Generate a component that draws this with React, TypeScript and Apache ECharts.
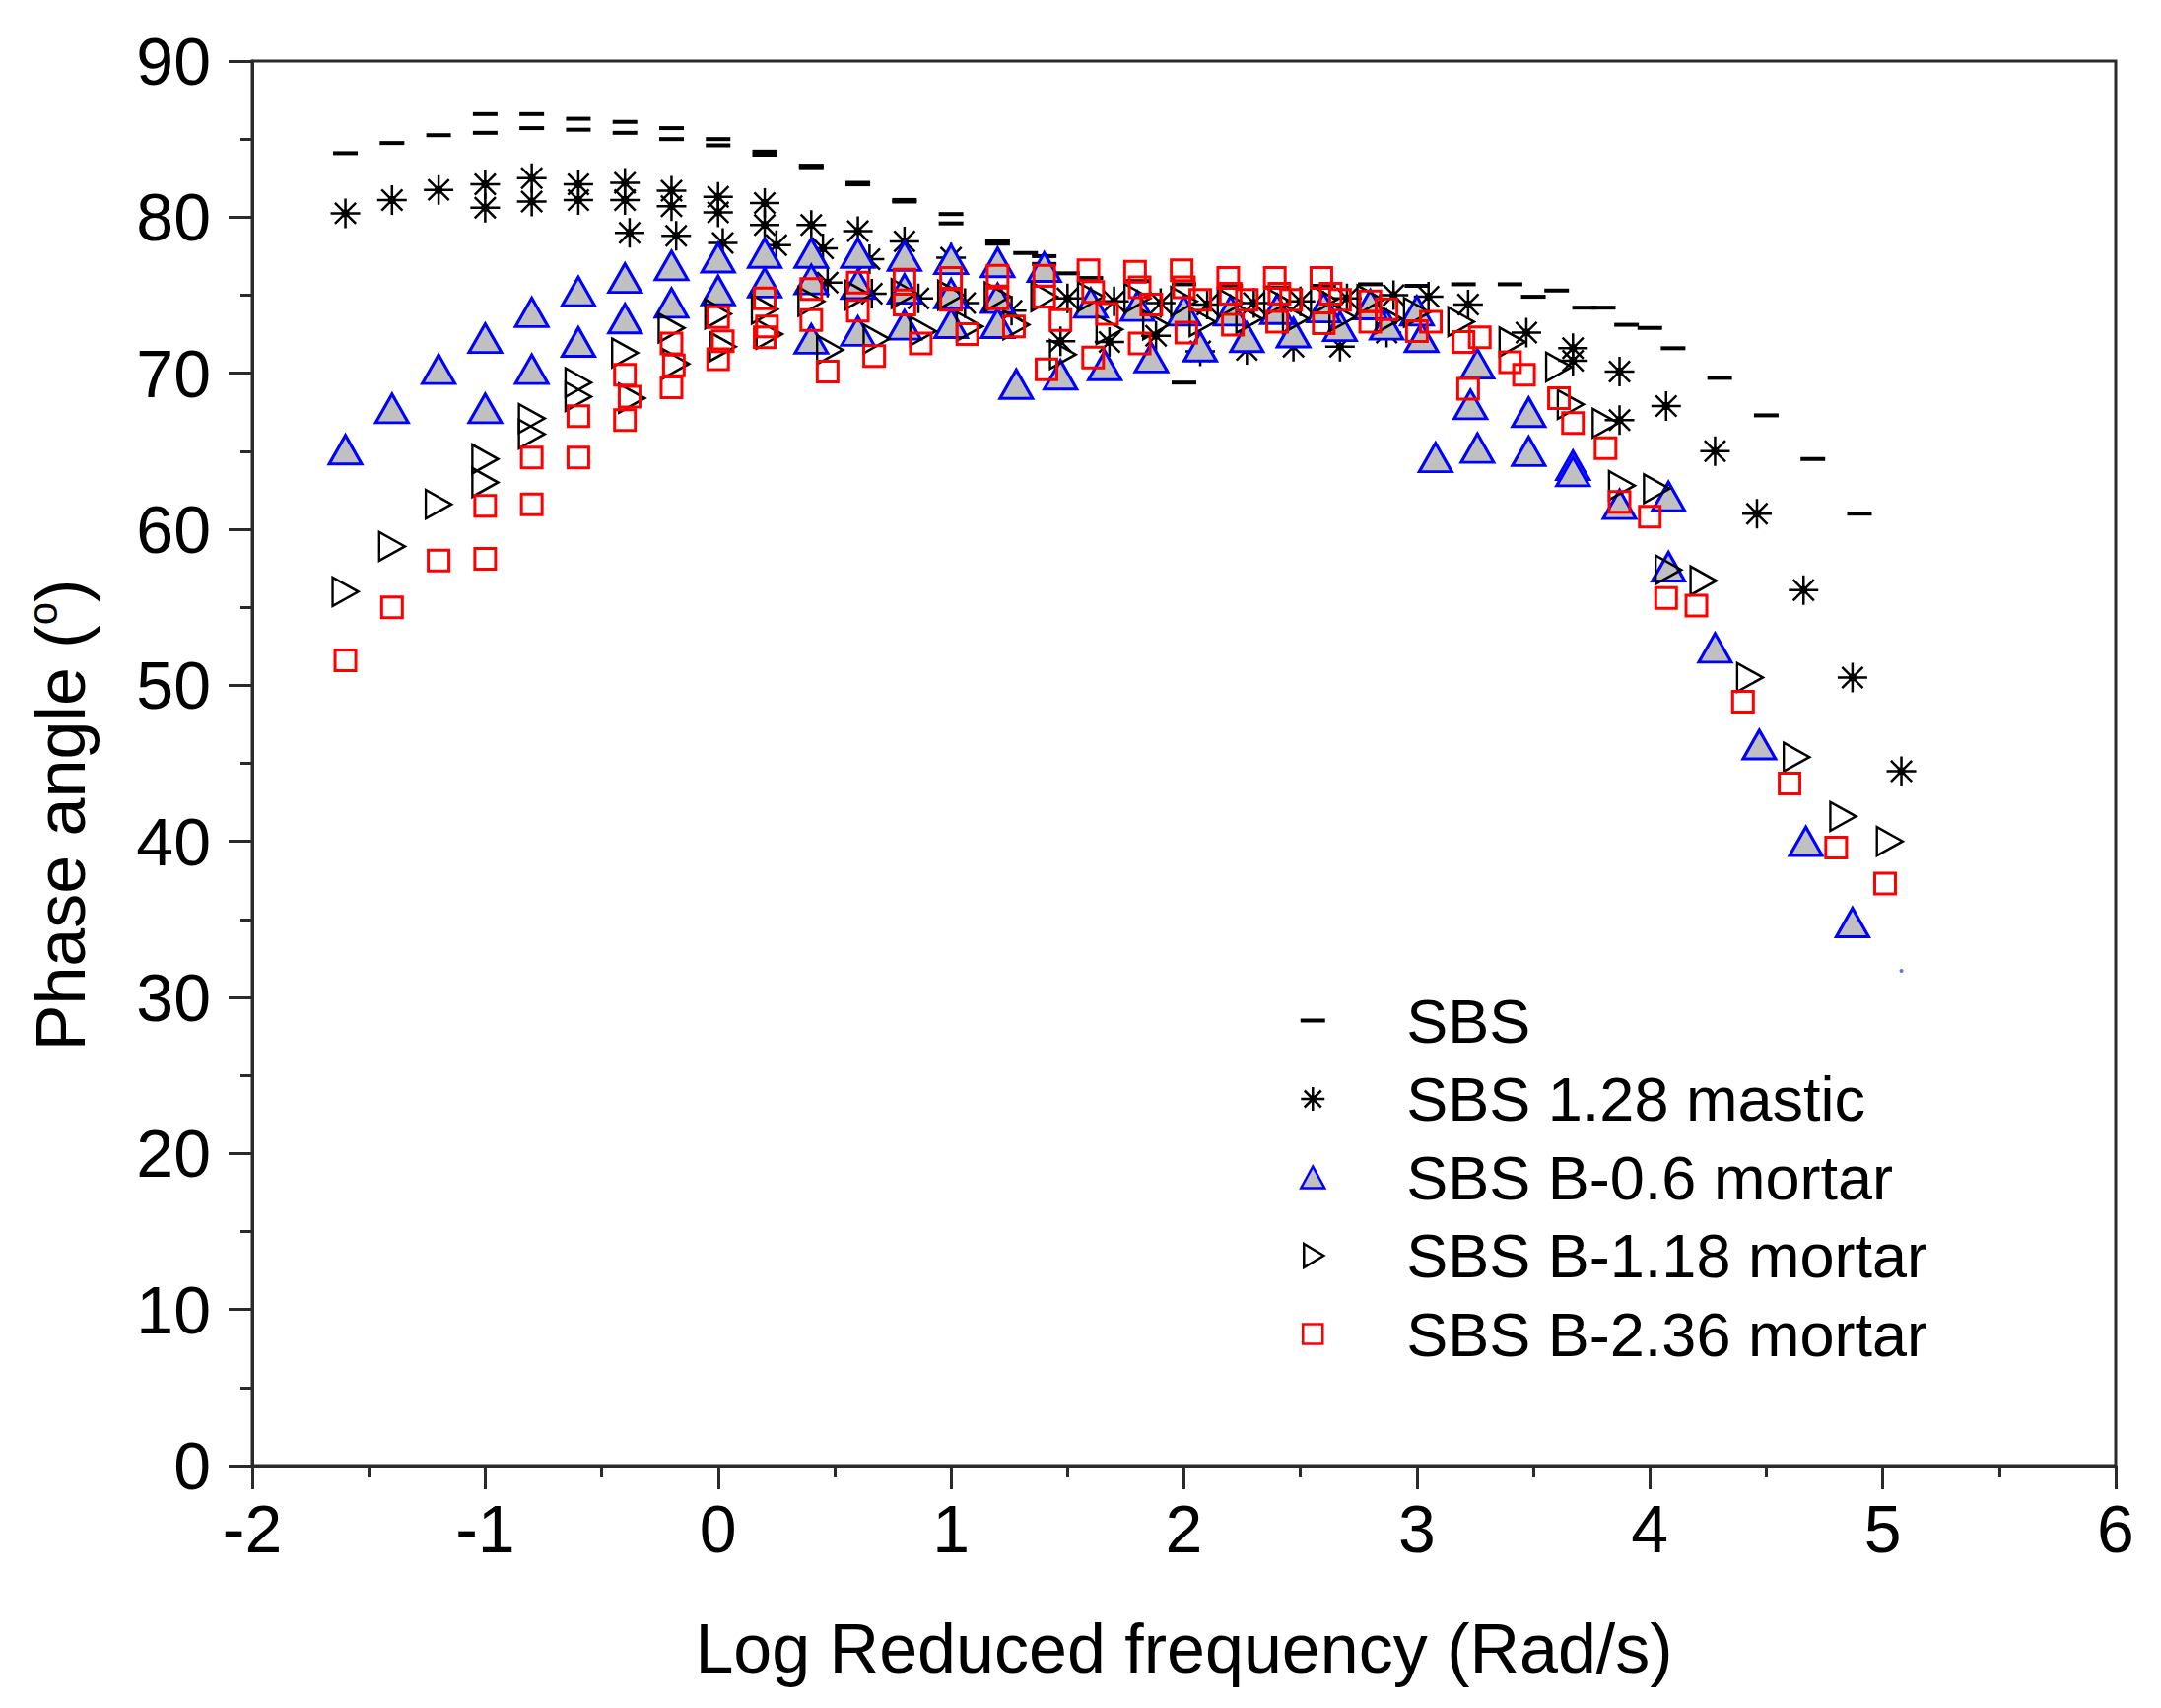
import React, { useEffect, useRef } from "react";
import * as echarts from "echarts";

const FONT = "'Liberation Sans', Arial, Helvetica, sans-serif";

const seriesNames = [
  "SBS",
  "SBS 1.28 mastic",
  "SBS B-0.6 mortar",
  "SBS B-1.18 mortar",
  "SBS B-2.36 mortar",
];

const xTicks = [-2, -1, 0, 1, 2, 3, 4, 5, 6];
const yTicks = [0, 10, 20, 30, 40, 50, 60, 70, 80, 90];

const sbs: number[][] = [
  [-1.6, 84.1], [-1.4, 84.75], [-1.2, 85.25], [-1.0, 86.6], [-1.0, 85.4], [-0.8, 86.6], [-0.8, 85.7],
  [-0.6, 86.3], [-0.6, 85.6], [-0.4, 86.1], [-0.4, 85.4], [-0.2, 85.7], [-0.2, 85.0], [0, 85.0], [0, 84.6],
  [0.2, 84.2], [0.2, 84.0], [0.4, 83.3], [0.4, 83.2], [0.6, 82.2], [0.6, 82.1], [0.8, 81.1], [0.8, 81.0],
  [1.0, 80.2], [1.0, 79.6], [1.2, 78.5], [1.2, 78.3], [1.32, 77.7], [1.4, 77.5], [1.4, 77.0], [1.5, 76.4],
  [1.6, 76.1], [1.8, 75.9], [2.0, 75.7], [2.0, 69.4], [2.2, 75.6], [2.4, 75.5], [2.6, 75.6], [2.8, 75.7],
  [3.0, 75.6], [3.2, 75.7], [3.4, 75.7], [3.5, 74.9], [3.6, 75.3], [3.72, 74.2], [3.8, 74.2], [3.9, 73.1],
  [4.0, 72.9], [4.1, 71.6], [4.3, 69.7], [4.5, 67.3], [4.7, 64.5], [4.9, 61.0],
];

const mastic: number[][] = [
  [-1.6, 80.25], [-1.4, 81.1], [-1.2, 81.75], [-1.0, 82.1], [-1.0, 80.6], [-0.8, 82.5], [-0.8, 81.0],
  [-0.6, 82.1], [-0.6, 81.1], [-0.4, 82.2], [-0.4, 81.1], [-0.38, 79.0], [-0.2, 81.7], [-0.2, 80.7],
  [-0.18, 78.8], [0, 81.3], [0, 80.3], [0.02, 78.35], [0.2, 80.9], [0.2, 79.5], [0.25, 78.2], [0.4, 79.5],
  [0.45, 78.0], [0.6, 79.1], [0.65, 77.3], [0.8, 78.45], [1.0, 77.4], [0.47, 75.8], [0.66, 75.1],
  [0.86, 74.8], [1.06, 74.5], [1.26, 74.0], [1.47, 72.05], [1.68, 72.0], [1.88, 72.4], [2.07, 71.4],
  [2.27, 71.5], [2.47, 71.7], [2.67, 71.7], [2.87, 72.6], [1.5, 74.8], [1.7, 74.6], [1.9, 74.5],
  [2.1, 74.4], [2.3, 74.5], [2.5, 74.6], [2.7, 74.8], [2.9, 75.0], [3.05, 74.9], [3.22, 74.4],
  [3.47, 72.6], [3.67, 71.6], [3.67, 70.8], [3.87, 70.1], [3.87, 67.0], [4.07, 67.9], [4.28, 65.0],
  [4.46, 61.0], [4.66, 56.1], [4.87, 50.5], [5.08, 44.5],
];

const mortar06: number[][] = [
  [-1.6, 65.1], [-1.4, 67.75], [-1.2, 70.25], [-1.0, 72.25], [-1.0, 67.75], [-0.8, 73.9], [-0.8, 70.25],
  [-0.6, 75.25], [-0.6, 72.0], [-0.4, 76.1], [-0.4, 73.5], [-0.2, 76.9], [-0.2, 74.5], [0, 77.4],
  [0, 75.3], [0.2, 77.7], [0.2, 75.8], [0.4, 77.7], [0.4, 76.0], [0.4, 72.2], [0.6, 77.7], [0.6, 75.7],
  [0.6, 72.7], [0.8, 77.5], [0.8, 75.4], [0.8, 73.1], [1.0, 77.3], [1.0, 75.1], [1.0, 73.2], [1.2, 77.1],
  [1.2, 74.8], [1.2, 73.2], [1.4, 76.8], [1.28, 69.3], [1.47, 69.9], [1.66, 70.5], [1.86, 71.0],
  [2.07, 71.7], [2.27, 72.3], [2.47, 72.6], [2.67, 73.0], [2.87, 73.1], [3.02, 72.3], [1.6, 74.5],
  [1.8, 74.3], [2.0, 74.0], [2.2, 74.0], [2.4, 74.1], [2.6, 74.2], [2.8, 74.4], [3.0, 74.0],
  [3.26, 70.6], [3.23, 68.0], [3.08, 64.6], [3.26, 65.2], [3.48, 67.5], [3.48, 65.0], [3.67, 64.1],
  [3.67, 63.7], [3.87, 61.6], [4.08, 62.1], [4.08, 57.6], [4.28, 52.4], [4.47, 46.2], [4.67, 40.0],
  [4.87, 34.8],
];

const mortar118: number[][] = [
  [-1.6, 56.0], [-1.4, 58.9], [-1.2, 61.6], [-1.0, 64.5], [-1.0, 63.0], [-0.8, 67.1], [-0.8, 66.1],
  [-0.6, 69.4], [-0.6, 68.5], [-0.4, 71.3], [-0.37, 68.4], [-0.2, 72.9], [-0.18, 70.6], [0, 73.8],
  [0.02, 71.7], [0.2, 74.1], [0.22, 72.5], [0.4, 74.6], [0.48, 71.5], [0.6, 75.0], [0.68, 72.2],
  [0.8, 75.1], [0.88, 72.7], [1.0, 75.0], [1.08, 73.0], [1.2, 74.9], [1.28, 73.1], [1.4, 74.9],
  [1.48, 71.2], [1.6, 74.9], [1.68, 72.8], [1.8, 74.8], [1.88, 73.1], [2.0, 74.6], [2.08, 73.3],
  [2.2, 74.5], [2.28, 73.5], [2.4, 74.6], [2.48, 73.5], [2.6, 74.7], [2.68, 73.6], [2.8, 74.7],
  [2.88, 73.5], [3.0, 73.9], [3.19, 73.3], [3.41, 72.0], [3.61, 70.4], [3.66, 68.0], [3.81, 66.8],
  [3.88, 62.8], [4.03, 62.6], [4.08, 57.4], [4.23, 56.7], [4.43, 50.5], [4.63, 45.4], [4.83, 41.6],
  [5.03, 40.0],
];

const mortar236: number[][] = [
  [-1.6, 51.6], [-1.4, 55.0], [-1.2, 58.0], [-1.0, 58.1], [-1.0, 61.5], [-0.8, 61.6], [-0.8, 64.6],
  [-0.6, 64.6], [-0.6, 67.25], [-0.4, 67.0], [-0.4, 69.9], [-0.38, 68.5], [-0.2, 69.1], [-0.2, 71.9],
  [-0.19, 70.5], [0, 70.9], [0, 73.6], [0.02, 72.05], [0.2, 72.3], [0.2, 74.8], [0.21, 73.0],
  [0.4, 75.4], [0.4, 73.4], [0.47, 70.1], [0.6, 75.8], [0.6, 74.0], [0.67, 71.1], [0.8, 76.0],
  [0.8, 74.4], [0.87, 71.9], [1.0, 76.1], [1.0, 74.7], [1.07, 72.5], [1.2, 76.25], [1.2, 74.8],
  [1.27, 73.0], [1.4, 76.25], [1.4, 74.9], [1.47, 73.4], [1.41, 70.25], [1.59, 76.6], [1.61, 75.2],
  [1.67, 73.8], [1.61, 71.0], [1.79, 76.5], [1.81, 75.5], [1.86, 74.4], [1.81, 71.9], [1.99, 76.6],
  [2.0, 75.5], [2.07, 74.7], [2.01, 72.6], [2.19, 76.1], [2.2, 75.1], [2.27, 74.7], [2.21, 73.1],
  [2.39, 76.1], [2.41, 75.1], [2.46, 74.7], [2.4, 73.3], [2.59, 76.1], [2.63, 75.1], [2.67, 74.7],
  [2.6, 73.2], [2.8, 74.6], [2.87, 74.1], [2.8, 73.3], [3.0, 72.7], [3.06, 73.3], [3.2, 72.0],
  [3.27, 72.3], [3.22, 69.0], [3.4, 70.7], [3.46, 69.9], [3.61, 68.4], [3.67, 66.8], [3.81, 65.2],
  [3.87, 61.75], [4.0, 60.8], [4.07, 55.6], [4.2, 55.1], [4.4, 48.95], [4.6, 43.7], [4.8, 39.6],
  [5.01, 37.3],
];

const strayDot: number[][] = [[5.08, 31.7]];

// symbol paths
const DASH = "path://M0,0H25V4H0Z";
const ASTER =
  "path://M15,0V30M0,15H30M4.4,4.4L25.6,25.6M4.4,25.6L25.6,4.4M15,12A3,3 0 1,1 15,18A3,3 0 1,1 15,12Z";
const TRI = "path://M16.5,0L33,29H0Z";
const RTRI = "path://M0,0L26,14.5L0,29Z";
const SQ = "path://M0,0H21V21H0Z";

// legend icons (26x26 bounding box)
const L_DASH = "path://M0,0M26,26M0.5,11H25.5V15H0.5Z";
const L_ASTER =
  "path://M0,0M26,26M13,1V25M1,13H25M4.5,4.5L21.5,21.5M4.5,21.5L21.5,4.5M13,10.5A2.5,2.5 0 1,1 13,15.5A2.5,2.5 0 1,1 13,10.5Z";
const L_TRI = "path://M0,0M26,26M13,2L25,24H1Z";
const L_RTRI = "path://M0,0M26,26M4,1L24,13L4,25Z";
const L_SQ = "path://M0,0M26,26M3,3H23V23H3Z";

export default function App() {
  const ref = useRef<HTMLDivElement>(null);

  useEffect(() => {
    if (!ref.current) return;
    const chart = echarts.init(ref.current, null, { renderer: "svg" });
    const axisColor = "#2a2a2a";
    chart.setOption({
      animation: false,
      backgroundColor: "#ffffff",
      grid: {
        left: 248,
        top: 54,
        right: 38,
        bottom: 238,
        show: true,
        borderColor: axisColor,
        borderWidth: 3,
        backgroundColor: "transparent",
      },
      xAxis: {
        type: "value",
        min: xTicks[0],
        max: xTicks[xTicks.length - 1],
        interval: 1,
        name: "Log Reduced frequency (Rad/s)",
        nameLocation: "middle",
        nameGap: 151,
        nameTextStyle: { fontSize: 70, color: "#000", fontFamily: FONT },
        axisLine: { show: true, onZero: false, lineStyle: { color: axisColor, width: 3 } },
        axisTick: { show: true, inside: false, length: 24, lineStyle: { color: axisColor, width: 3 } },
        minorTick: { show: true, splitNumber: 2, length: 12, lineStyle: { color: axisColor, width: 3 } },
        axisLabel: { fontSize: 68, color: "#000", fontFamily: FONT, margin: 30 },
        splitLine: { show: false },
      },
      yAxis: {
        type: "value",
        min: yTicks[0],
        max: yTicks[yTicks.length - 1],
        interval: 10,
        axisLine: { show: true, onZero: false, lineStyle: { color: axisColor, width: 3 } },
        axisTick: { show: true, inside: false, length: 24, lineStyle: { color: axisColor, width: 3 } },
        minorTick: { show: true, splitNumber: 2, length: 12, lineStyle: { color: axisColor, width: 3 } },
        axisLabel: { fontSize: 68, color: "#000", fontFamily: FONT, margin: 42 },
        splitLine: { show: false },
      },
      graphic: [
        {
          type: "text",
          x: 54,
          y: 819,
          rotation: Math.PI / 2,
          style: {
            text: "{a|Phase angle (}{s|o}{a|)}",
            align: "center",
            verticalAlign: "middle",
            fill: "#000",
            rich: {
              a: { fontSize: 70, fontFamily: FONT, fill: "#000", lineHeight: 80 },
              s: { fontSize: 42, fontFamily: FONT, fill: "#000", verticalAlign: "top", lineHeight: 56 },
            },
          },
        },
      ],
      legend: {
        orient: "vertical",
        left: 1310,
        top: 996,
        padding: 0,
        itemGap: 16.5,
        itemWidth: 180,
        itemHeight: 26,
        selectedMode: false,
        itemStyle: { borderWidth: 2.5 },
        textStyle: { fontSize: 63, lineHeight: 63, color: "#000", fontFamily: FONT },
        data: [
          { name: seriesNames[0], icon: L_DASH, itemStyle: { borderWidth: 0 } },
          { name: seriesNames[1], icon: L_ASTER },
          { name: seriesNames[2], icon: L_TRI },
          { name: seriesNames[3], icon: L_RTRI },
          { name: seriesNames[4], icon: L_SQ },
        ],
      },
      series: [
        {
          name: seriesNames[0],
          type: "scatter",
          data: sbs,
          symbol: DASH,
          symbolSize: [25, 4],
          itemStyle: { color: "#000", borderWidth: 0, opacity: 1 },
        },
        {
          name: seriesNames[1],
          type: "scatter",
          data: mastic,
          symbol: ASTER,
          symbolSize: [30, 30],
          itemStyle: { color: "#000", borderColor: "#000", borderWidth: 2.5, opacity: 1 },
        },
        {
          name: seriesNames[2],
          type: "scatter",
          data: mortar06,
          symbol: TRI,
          symbolSize: [33, 29],
          itemStyle: { color: "#c0c0c0", borderColor: "#0000ff", borderWidth: 3, opacity: 1 },
        },
        {
          name: seriesNames[3],
          type: "scatter",
          data: mortar118,
          symbol: RTRI,
          symbolSize: [26, 29],
          itemStyle: { color: "rgba(255,255,255,0)", borderColor: "#000", borderWidth: 2.5, opacity: 1 },
        },
        {
          name: seriesNames[4],
          type: "scatter",
          data: mortar236,
          symbol: SQ,
          symbolSize: [21, 21],
          itemStyle: { color: "rgba(255,255,255,0)", borderColor: "#ff0000", borderWidth: 3, opacity: 1 },
        },
        {
          name: "stray",
          type: "scatter",
          data: strayDot,
          symbol: "circle",
          symbolSize: 4,
          itemStyle: { color: "#3050ff" },
        },
      ],
    });
    return () => chart.dispose();
  }, []);

  return <div ref={ref} style={{ width: 2177, height: 1717 }} />;
}
